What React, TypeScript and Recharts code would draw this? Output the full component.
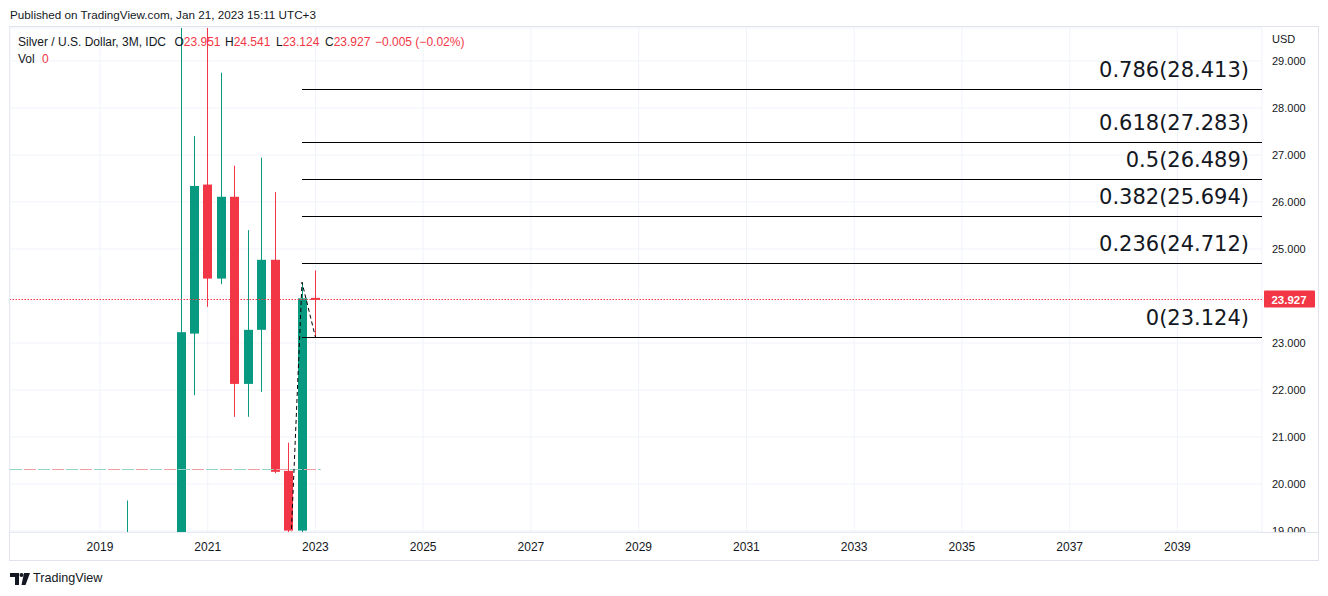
import React from 'react';
import {
  ComposedChart,
  Bar,
  Line,
  XAxis,
  YAxis,
  CartesianGrid,
  ReferenceLine,
} from 'recharts';

// Quarterly candles (x = quarter start as a fractional year)
const quarterStarts = [2019.5, 2019.75, 2020.0, 2020.25, 2020.5, 2020.75, 2021.0, 2021.25, 2021.5, 2021.75, 2022.0, 2022.25, 2022.5, 2022.75, 2023.0];
const opens = [15.3, 16.96, 17.85, 13.98, 18.63, 23.2, 26.37, 24.37, 26.11, 22.13, 23.28, 24.77, 20.28, 19.01, 23.951];
const highs = [19.65, 18.1, 18.9, 18.9, 29.86, 27.4, 30.1, 28.75, 26.77, 25.4, 26.94, 26.21, 20.88, 24.29, 24.541];
const lows = [14.3, 16.2, 11.64, 13.86, 17.9, 21.89, 23.77, 24.25, 21.43, 21.43, 21.96, 20.23, 17.56, 18.09, 23.124];
const closes = [16.96, 17.85, 13.98, 18.63, 23.23, 26.34, 24.37, 26.11, 22.13, 23.28, 24.77, 20.26, 19.01, 23.95, 23.927];

// Trend-based Fibonacci extension
const fibRatios = ['0', '0.236', '0.382', '0.5', '0.618', '0.786'];
const fibPrices = [23.124, 24.712, 25.694, 26.489, 27.283, 28.413];
const fibStart = 2022.75;

// Anchor path of the Fibonacci tool
const trendTimes = [2022.5, 2022.75, 2023.0];
const trendPrices = [17.56, 24.29, 23.124];

// Misc levels
const lastPrice = 23.927;
const bandPrice = 20.31;
const bandEnd = 2023.1;

// Axis ticks
const yearTicks = [2019, 2021, 2023, 2025, 2027, 2029, 2031, 2033, 2035, 2037, 2039];
const priceTicks = [19, 20, 21, 22, 23, 24, 25, 26, 27, 28, 29];

const X_MIN = 2017.33;
const X_MAX = 2040.57;
const Y_MIN = 18.98;
const Y_MAX = 29.7;

const GREEN = '#089981';
const RED = '#f23645';
const TEXT = '#131722';
const GRID = '#f0f3fa';
const SANS = '"Liberation Sans", Arial, sans-serif';

const candles = quarterStarts.map((t, i) => ({
  t,
  open: opens[i],
  high: highs[i],
  low: lows[i],
  close: closes[i],
  range: [lows[i], highs[i]],
}));

const trendData = trendTimes.map((t, i) => ({ t, v: trendPrices[i] }));

const crisp = (v: number) => Math.round(v) + 0.5;

const Candle = (props: any) => {
  const { x, y, width, height, payload } = props;
  if (!payload || x == null) return null;
  const { open, high, low, close } = payload;
  const top = height >= 0 ? y : y + height;
  const h = Math.abs(height);
  const ppu = h / (high - low);
  const color = close >= open ? GREEN : RED;
  const cx = crisp(x + width / 2);
  const bodyTop = top + (high - Math.max(open, close)) * ppu;
  let bodyH = Math.abs(open - close) * ppu;
  let by = bodyTop;
  if (bodyH < 2) {
    by = bodyTop + bodyH / 2 - 1;
    bodyH = 2;
  }
  return (
    <g>
      <line x1={cx} x2={cx} y1={top} y2={top + h} stroke={color} strokeWidth={1} />
      <rect x={cx - 4.5} y={by} width={9} height={bodyH} fill={color} />
    </g>
  );
};

// Horizontal level drawn on whole pixels so thin dashes stay sharp
const makeLevel = (color: string, dash?: string) => (p: any) => (
  <line
    x1={p.x1}
    x2={p.x2}
    y1={crisp(p.y1)}
    y2={crisp(p.y2)}
    stroke={color}
    strokeWidth={1}
    strokeDasharray={dash}
    fill="none"
  />
);

const FibLabel = (props: any) => {
  const { viewBox, text } = props;
  if (!viewBox) return null;
  const right = viewBox.x + viewBox.width;
  return (
    <text
      x={right - 13}
      y={viewBox.y - 12}
      textAnchor="end"
      fontFamily='"DejaVu Sans", sans-serif'
      fontSize={21}
      fill={TEXT}
    >
      {text}
    </text>
  );
};

const PriceTag = (props: any) => {
  const { viewBox, price } = props;
  if (!viewBox) return null;
  const x = viewBox.x + viewBox.width + 2;
  const y = Math.round(viewBox.y);
  return (
    <g>
      <rect x={x} y={y - 8.5} width={51} height={17} fill={RED} rx={1} />
      <text x={x + 25} y={y + 4.5} textAnchor="middle" fill="#ffffff" fontWeight="bold" fontFamily={SANS} fontSize={11.5}>
        {price.toFixed(3)}
      </text>
    </g>
  );
};

const PriceTick = (props: any) => {
  const { x, y, payload, index } = props;
  // the last-price tag takes the place of a label that sits under it
  if (Math.abs(Number(payload.value) - lastPrice) < 0.3) return null;
  const id = `price-tick-clip-${index}`;
  return (
    <g>
      <defs>
        <clipPath id={id}>
          <rect x={1262} y={27} width={66} height={505} />
        </clipPath>
      </defs>
      <text x={x + 10} y={y + 4} fill={TEXT} fontFamily={SANS} fontSize={11} clipPath={`url(#${id})`}>
        {Number(payload.value).toFixed(3)}
      </text>
    </g>
  );
};

const YearTick = (props: any) => {
  const { x, y, payload } = props;
  return (
    <text x={x} y={y + 19} textAnchor="middle" fill={TEXT} fontFamily={SANS} fontSize={12}>
      {payload.value}
    </text>
  );
};

const Logo = () => (
  <svg width={22} height={14} viewBox="0 0 22 14" style={{ position: 'absolute', left: 10, top: 572 }}>
    <path d="M0 1 H9 V13 H5 V5 H0 Z" fill={TEXT} />
    <circle cx={11.5} cy={3} r={2} fill={TEXT} />
    <path d="M14 1 H20 L15.5 13 H11.5 Z" fill={TEXT} />
  </svg>
);

const headerGroups = [
  { label: 'O', value: '23.951', left: 174.5 },
  { label: 'H', value: '24.541', left: 225 },
  { label: 'L', value: '23.124', left: 276 },
  { label: 'C', value: '23.927', left: 325 },
];

export default function App() {
  return (
    <div style={{ position: 'relative', width: 1328, height: 596, background: '#ffffff', overflow: 'hidden', fontFamily: SANS, color: TEXT }}>
      <style>{'body{margin:0}'}</style>
      {/* chart frame */}
      <div style={{ position: 'absolute', left: 9, top: 26, width: 1308, height: 533, border: '1px solid #e0e3eb' }} />
      <div style={{ position: 'absolute', left: 10, top: 532, width: 1308, height: 1, background: '#e0e3eb' }} />

      <div style={{ position: 'absolute', left: 0, top: 0 }}>
        <ComposedChart width={1328} height={596} data={candles} margin={{ top: 28, right: 0, bottom: 0, left: 10 }}>
          <CartesianGrid stroke={GRID} strokeWidth={1} />
          <XAxis
            dataKey="t"
            type="number"
            domain={[X_MIN, X_MAX]}
            ticks={yearTicks}
            allowDataOverflow
            height={64}
            tickLine={false}
            axisLine={false}
            tickSize={0}
            tickMargin={0}
            tick={<YearTick />}
            interval={0}
          />
          <YAxis
            orientation="right"
            type="number"
            domain={[Y_MIN, Y_MAX]}
            ticks={priceTicks}
            allowDataOverflow
            width={66}
            tickLine={false}
            axisLine={false}
            tickSize={0}
            tickMargin={0}
            tick={<PriceTick />}
            interval={0}
          />
          <ReferenceLine
            segment={[{ x: X_MIN, y: bandPrice }, { x: bandEnd, y: bandPrice }]}
            shape={makeLevel('#92d3c6', '12 16')}
          />
          <ReferenceLine
            segment={[{ x: X_MIN, y: bandPrice }, { x: bandEnd, y: bandPrice }]}
            shape={makeLevel('#f59ca3', '0 14 12 2')}
          />
          <Bar dataKey="range" barSize={9} shape={<Candle />} isAnimationActive={false} />
          <Line
            data={trendData}
            dataKey="v"
            stroke="#000000"
            strokeWidth={1}
            strokeDasharray="4 3"
            dot={false}
            activeDot={false}
            isAnimationActive={false}
          />
          <ReferenceLine
            y={lastPrice}
            shape={makeLevel(RED, '1.5 1.5')}
            label={<PriceTag price={lastPrice} />}
          />
          {fibPrices.map((p, i) => (
            <ReferenceLine
              key={fibRatios[i]}
              segment={[{ x: fibStart, y: p }, { x: X_MAX, y: p }]}
              shape={makeLevel('#000000')}
              label={<FibLabel text={`${fibRatios[i]}(${p.toFixed(3)})`} />}
            />
          ))}
        </ComposedChart>
      </div>

      {/* header */}
      <div style={{ position: 'absolute', left: 10, top: 8, fontSize: 11.7, whiteSpace: 'nowrap' }}>
        Published on TradingView.com, Jan 21, 2023 15:11 UTC+3
      </div>
      <div style={{ position: 'absolute', left: 18, top: 35, fontSize: 12, whiteSpace: 'nowrap' }}>
        Silver / U.S. Dollar, 3M, IDC
      </div>
      {headerGroups.map((g) => (
        <div key={g.label} style={{ position: 'absolute', left: g.left, top: 35, fontSize: 12, whiteSpace: 'nowrap' }}>
          {g.label}
          <span style={{ color: RED }}>{g.value}</span>
        </div>
      ))}
      <div style={{ position: 'absolute', left: 375, top: 35, fontSize: 12, whiteSpace: 'nowrap', color: RED }}>
        −0.005 (−0.02%)
      </div>
      <div style={{ position: 'absolute', left: 18, top: 52, fontSize: 12, whiteSpace: 'nowrap' }}>
        Vol <span style={{ color: RED, marginLeft: 4 }}>0</span>
      </div>
      <div style={{ position: 'absolute', left: 1272, top: 33, fontSize: 11, whiteSpace: 'nowrap' }}>USD</div>

      {/* footer */}
      <Logo />
      <div style={{ position: 'absolute', left: 33, top: 571, fontSize: 12.6, whiteSpace: 'nowrap' }}>TradingView</div>
    </div>
  );
}
